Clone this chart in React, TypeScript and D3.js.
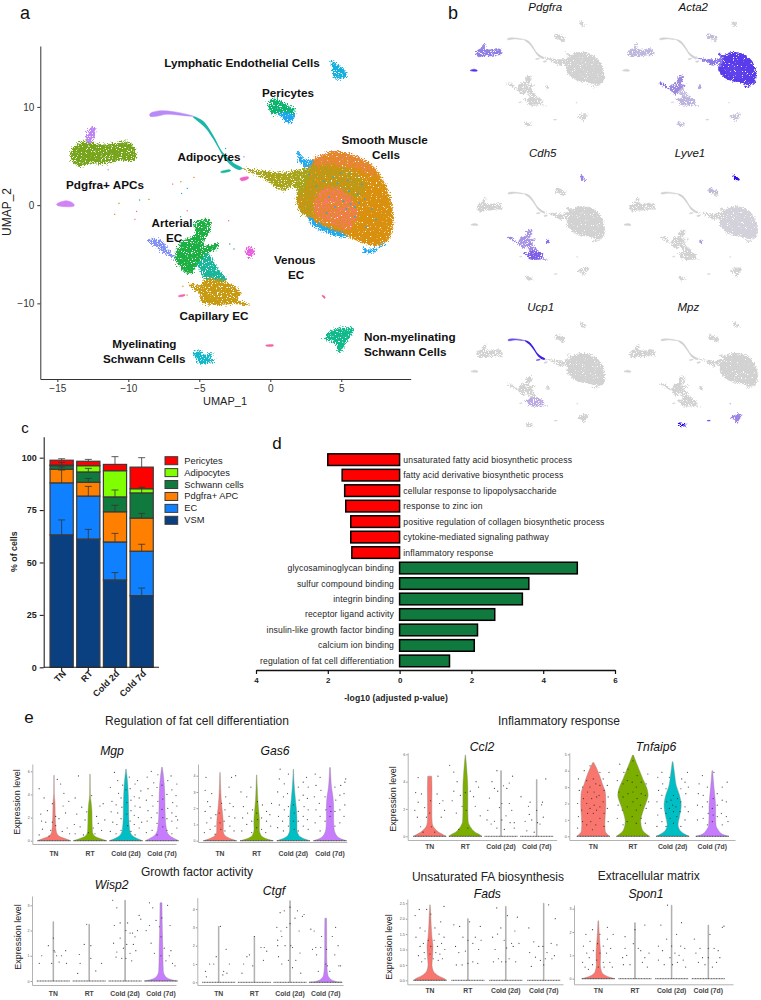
import { useEffect, useRef } from 'react';
import * as d3 from 'd3';

// ---------- panel a/b: UMAP cluster outlines in UMAP units
const lymphaticHull = [[4.27,14.64],[4.91,14.17],[5.45,13.22],[5.14,12.92],[4.51,12.98],[4.39,13.73]];
const pericyteHull = [[-0.07,10.51],[0.33,10.85],[1.03,10.34],[1.74,9.66],[1.74,9.25],[0.92,9.39],[0.09,9.32],[-0.09,9.83]];
const pericyteBlueHull = [[0.45,9.39],[1.74,9.25],[1.38,8.31],[0.8,8.92]];
const apcHull = [[-14.06,5.42],[-13.52,6.27],[-12.82,6.61],[-12,6.2],[-11.06,6.27],[-10.23,6.51],[-9.65,6.1],[-9.41,5.08],[-9.53,4.58],[-10.59,4.51],[-11.53,4.24],[-12.7,4.24],[-13.52,3.97],[-13.99,4.58]];
const apcTopHull = [[-12.98,6.61],[-12.82,7.63],[-12.35,7.97],[-12.35,7.12],[-12.58,6.27]];
const apcLeftHull = [[-15.05,0.1],[-14.34,0.45],[-13.83,0.1],[-13.83,-0.1],[-15,-0.03]];
const adipPurpleHull = [[-8.47,9.32],[-7.89,9.59],[-6.71,9.49],[-5.42,9.05],[-5.89,9.08],[-7.3,9.25],[-8,9.05],[-8.47,9.05]];
const adipTealHull = [[-5.42,8.98],[-4.72,8.47],[-4.01,6.95],[-3.43,5.42],[-2.61,4.24],[-2.02,3.73],[-2.25,3.66],[-3.08,4.58],[-3.78,6.27],[-4.48,7.8],[-5.19,8.71]];
const wedgeHull = [[-2.02,3.73],[-0.73,3.56],[0.92,3.32],[2.56,3.63],[2.68,2.54],[2.09,1.02],[1.62,1.86],[0.92,1.46],[-0.26,2.54],[-1.2,3.29]];
const smBaseHull = [[3.03,4.58],[4.44,5.42],[5.85,5.08],[7.02,4.24],[7.96,2.54],[8.54,0.17],[8.66,-1.86],[8.31,-3.56],[7.49,-4.17],[6.31,-3.73],[5.14,-3.05],[3.5,-2.2],[2.68,-1.19],[2.09,-0.51],[1.92,0.85],[2.44,2.88]];
const smOliveHull = [[2.44,3.73],[3.15,4.24],[4.44,4],[5.85,3.49],[6.9,1.86],[5.85,0.51],[4.44,1.69],[3.5,1.36],[3.26,-0.85],[2.68,-1.19],[2.09,-0.51],[1.92,0.85],[2.44,2.88]];
const smTopHull = [[3.03,4.58],[4.44,5.42],[5.85,5.08],[7.02,4.24],[7.61,3.05],[5.85,3.73],[4.44,4.17],[3.15,4]];
const smSalmonHull = [[3.5,1.36],[4.55,1.86],[5.73,0.85],[6.2,-0.85],[5.61,-2.54],[4.44,-1.93],[3.5,-1.36],[3.15,0]];
const smBlueLowHull = [[2.68,-1.19],[3.5,-1.93],[5.38,-3.15],[5.14,-3.29],[3.5,-2.54],[2.79,-1.8]];
const smBlueSpikeHull = [[1.9,5.53],[2.44,4.64],[3.03,4.51],[2.68,3.83],[2.09,4.34]];
const smBlueHookHull = [[6.5,-4.41],[7.25,-4.51],[8.19,-3.73],[7.49,-4.64],[6.78,-4.92],[6.5,-4.64]];
const arterialHull = [[-5.31,-1.8],[-4.25,-1.46],[-4.25,-2.54],[-4.72,-4.07],[-3.66,-3.9],[-3.66,-4.31],[-4.48,-4.98],[-4.95,-5.66],[-5.66,-7.02],[-6.48,-6.1],[-6.71,-5.25],[-6.24,-3.73],[-5.31,-3.05]];
const arterialBlueHull = [[-8.71,-3.56],[-7.82,-3.49],[-7.18,-4.41],[-6.71,-5.42],[-7.07,-5.25],[-7.89,-4.41]];
const venousHull = [[-5.42,-4.58],[-4.37,-4.92],[-3.78,-6.27],[-3.08,-7.63],[-4.48,-7.63],[-5.07,-6.27]];
const capillaryHull = [[-5.66,-8.03],[-4.84,-8.14],[-4.6,-7.63],[-3.54,-7.56],[-2.61,-8.14],[-2.09,-8.98],[-2.25,-9.66],[-1.38,-10.2],[-2.61,-10.07],[-4.01,-10.17],[-4.84,-9.83],[-5,-8.98],[-5.66,-8.3]];
const nonMyelHull = [[3.78,-13.56],[4.67,-12.54],[5.89,-12.64],[5.49,-13.73],[4.86,-15.02],[4.55,-14.08]];
const myelHull = [[-5.38,-14.92],[-4.95,-14.81],[-4.6,-15.25],[-4.01,-14.92],[-4.25,-15.59],[-3.83,-15.76],[-4.95,-16.17],[-5.19,-15.76]];
const pinkAHull = [[-1.71,-4.41],[-1.31,-4.31],[-1.08,-5.08],[-1.43,-5.32],[-1.67,-4.92]];
const pinkBHull = [[-2.14,2.71],[-1.55,2.88],[-1.55,2.7],[-2.02,2.47]];
const pinkCHull = [[-6.48,-9.25],[-6.01,-9.1],[-6.01,-9.2],[-6.41,-9.33]];
const pinkDHull = [[3.64,-9.19],[3.85,-9.32],[3.85,-9.5],[3.69,-9.33]];
const pinkEHull = [[-0.33,-14.27],[0.21,-14.22],[0.21,-14.33],[-0.26,-14.36]];
const tealBitHull = [[-3.5,3.39],[-2.84,3.6],[-2.79,3.5],[-3.43,3.3]];

const clusterKeys = ['lymphatic','pericyte','pericyteBlue','apc','apcTop','wedge','arterialBlue','venous','arterial','capillary','nonMyel','myel','pinkA'];
const clusterHulls = [lymphaticHull,pericyteHull,pericyteBlueHull,apcHull,apcTopHull,wedgeHull,arterialBlueHull,venousHull,arterialHull,capillaryHull,nonMyelHull,myelHull,pinkAHull];
const clusterColors = ['#12afdf','#0cb56e','#1fa7ee','#76a51b','#bd84f5','#a9a51a','#7f8ff5','#18b79b','#1cb043','#c79a12','#10ba8a','#0fb9c9','#ea5fe0'];
// thin or tiny clusters, left out of the speckle filter or they would fall apart
const thinKeys = ['apcLeft','adipPurple','adipTeal','pinkB','pinkC','pinkD','pinkE','tealBit'];
const thinHulls = [apcLeftHull,adipPurpleHull,adipTealHull,pinkBHull,pinkCHull,pinkDHull,pinkEHull,tealBitHull];
const thinColors = ['#d083f2','#b98af7','#1ab7a8','#ee62c4','#f75fb0','#f75f95','#f566a0','#18b89a'];
const smKeys = ['smBase','smOlive','smTop','smSalmon','smBlueLow','smBlueSpike','smBlueHook'];
const smHulls = [smBaseHull,smOliveHull,smTopHull,smSalmonHull,smBlueLowHull,smBlueSpikeHull,smBlueHookHull];
const smColors = ['#d9900e','#ad9f1e','#ef7f50','#f8766d','#1fa9f0','#1fa9f0','#1fa9f0'];

const strayDots = [[-5.42,2.88,'#d89000'],[-6.92,2.2,'#f564a0'],[-6.34,2.44,'#a3a500'],[-6.29,1.25,'#1fa9f0'],[-5.89,1.76,'#1fa9f0'],[-10.7,0.24,'#a3a500'],[-9.25,0.58,'#12bd85'],[-8.59,0.64,'#a3a500'],[-11,-0.88,'#d89000'],[-9.58,-1.39,'#f8766d'],[-9.46,-0.58,'#f564a0'],[-5.89,-0.51,'#f564a0'],[-6.36,-1.12,'#18b79b'],[-2.98,-1.53,'#f564a0'],[-1.9,4.98,'#ea5fe0'],[-3.19,5.83,'#1fa9f0'],[-11.46,3.66,'#d083f2'],[-2.9,-3.9,'#1cb043'],[-2.6,-4.4,'#1cb043'],[-6.2,-8.2,'#c79a12'],[-5.9,-9.1,'#c79a12']];
const smSpeckles = [[5.1,0.5],[5.6,0.2],[5.3,-0.3],[5.9,-0.1],[6.2,0.3],[4.9,3.3],[5.4,2.6],[4.7,2.3],[6.1,1.2],[6.6,0.7],[4.1,0.9],[3.7,2.5],[4.4,2.9],[7.1,-0.3],[7.4,-1.4],[6.7,-2.2],[5.9,-1.1],[3.2,2],[2.7,3.2],[5.5,1.5],[6.4,2.2],[4.5,-0.1],[3.9,-0.7]];

// feature plots: genes and the clusters that light up, the rest stays grey
const geneNames = ['Pdgfra','Acta2','Cdh5','Lyve1','Ucp1','Mpz'];
const pdgfraLit = { apc:'#8f7ee6', apcTop:'#9a8be6', apcLeft:'#4a30ee' };
const acta2Lit = { smBase:'#5a3cea', smOlive:'#5a3cea', smTop:'#5a3cea', smSalmon:'#5f42ea', smBlueLow:'#5a3cea', smBlueSpike:'#6a50e8', smBlueHook:'#4a30ee', wedge:'#8b78e8', arterialBlue:'#8a6fe4', arterial:'#9d8adf', venous:'#c4bce0', capillary:'#bcb3de', apc:'#bdb8dc', apcTop:'#c6c2dc', pericyte:'#bfbbdc', myel:'#c2bedc', nonMyel:'#c6c4d8', pinkA:'#a99ce0' };
const cdh5Lit = { capillary:'#7c5ee8', arterial:'#a894e4', arterialBlue:'#9a85e8', venous:'#a088e6', lymphatic:'#9a80ea', pinkA:'#8a70e8' };
const lyve1Lit = { lymphatic:'#2a10e8', pericyte:'#bdb8d8', smBase:'#d3d1da', smOlive:'#d3d1da', smTop:'#d3d1da', smSalmon:'#d3d1da', smBlueLow:'#d3d1da', pinkA:'#a99ce0' };
const ucp1Lit = { adipTeal:'#3a20e8', adipPurple:'#6a50e8', capillary:'#baa8e2', tealBit:'#6a50e8' };
const mpzLit = { myel:'#2a10e8', nonMyel:'#9d85e5', pinkE:'#5a40e8', pinkD:'#b8aee0' };
const geneLit = [pdgfraLit, acta2Lit, cdh5Lit, lyve1Lit, ucp1Lit, mpzLit];

const umapLabels = [
  ['Lymphatic Endothelial Cells',242,62,'middle'],['Pericytes',288,92,'middle'],
  ['Smooth Muscle',384.7,139.3,'middle'],['Cells',386,154.3,'middle'],
  ['Adipocytes',209,156,'middle'],['Pdgfra+ APCs',105,184,'middle'],
  ['Arterial',172,222.7,'middle'],['EC',174,237.7,'middle'],
  ['Venous',294.7,259.7,'middle'],['EC',296,274.7,'middle'],
  ['Capillary EC',214,315.3,'middle'],
  ['Myelinating',144.3,343.7,'middle'],['Schwann Cells',144.3,358.7,'middle'],
  ['Non-myelinating',364,336,'start'],['Schwann Cells',364,351.3,'start'],
];

// ---------- panel c
const conditions = ['TN','RT','Cold 2d','Cold 7d'];
const cellTypes = ['VSM','EC','Pdgfra+ APC','Schwann cells','Adipocytes','Pericytes'];
const cellColors = ['#0a3f80','#0f80ff','#ff8000','#107a3e','#80ff00','#ff0000'];
const vsmShare = [63.2,61.2,41.7,34.2];
const ecShare = [24.8,20.5,18.1,21.2];
const apcShare = [6.5,6.6,14.4,15.8];
const schwannShare = [1.7,4.9,7.1,12];
const adipShare = [0.3,3,12.5,2];
const periShare = [2.3,2.1,3,10.3];
const vsmErr = [70.3,65.8,45.2,37.8];
const ecErr = [94.1,86.3,63.9,58.7];
const apcErr = [95.6,90.1,77.3,73.4];
const schwannErr = [97.8,94.9,84.6,85.9];
const periErr = [99.5,99.2,100.5,100];

// ---------- panel d
const goTerms = ['unsaturated fatty acid biosynthetic process','fatty acid derivative biosynthetic process','cellular response to lipopolysaccharide','response to zinc ion','positive regulation of collagen biosynthetic process','cytokine-mediated signaling pathway','inflammatory response','glycosaminoglycan binding','sulfur compound binding','integrin binding','receptor ligand activity','insulin-like growth factor binding','calcium ion binding','regulation of fat cell differentiation'];
const goValues = [-2,-1.6,-1.53,-1.5,-1.36,-1.36,-1.33,4.95,3.6,3.42,2.65,2.17,2.08,1.39];

// ---------- panel e: violin outlines [level, relative half width], sticks are just [0,top]
const violinGroups = ['TN','RT','Cold (2d)','Cold (7d)'];
const violinColors = ['#f8766d','#7cae00','#00bfc4','#c77cff'];
const mgpViolins = [
  [[0,1],[.15,.75],[.4,.3],[.8,.14],[1.5,.09],[2.5,.07],[3.3,.06],[4.1,.015],[5.65,.01]],
  [[0,1],[.15,.7],[.4,.28],[.8,.15],[1.5,.13],[2.5,.12],[3.2,.08],[4,.02],[5.75,.01]],
  [[0,1],[.15,.75],[.5,.35],[1,.22],[2,.17],[3,.16],[4,.14],[5,.1],[5.7,.05],[6.2,.01]],
  [[0,1],[.15,.8],[.5,.42],[1,.27],[2,.2],[3,.18],[4,.17],[5,.13],[5.8,.07],[6.35,.02]],
];
const gas6Violins = [
  [[0,1],[.1,.7],[.3,.32],[.6,.2],[1,.2],[1.5,.17],[2,.12],[2.6,.07],[3.2,.04],[4.2,.01]],
  [[0,1],[.1,.65],[.3,.28],[.7,.16],[1.2,.17],[1.8,.13],[2.5,.07],[3.2,.04],[4.05,.01]],
  [[0,1],[.1,.7],[.3,.35],[.7,.22],[1.2,.22],[1.8,.2],[2.5,.13],[3.2,.07],[3.8,.03],[4.4,.01]],
  [[0,1],[.1,.7],[.35,.38],[.8,.24],[1.3,.22],[2,.22],[2.7,.18],[3.3,.09],[3.9,.05],[4.5,.02]],
];
const wisp2Violins = [
  [[0,.02],[2.35,.02]],[[0,.02],[2.25,.02]],[[0,.02],[3.2,.02]],
  [[0,1],[.06,.6],[.2,.25],[.4,.14],[.8,.12],[1.3,.11],[1.8,.09],[2.4,.07],[3.1,.06]],
];
const ctgfViolins = [
  [[0,.02],[3.05,.02]],[[0,.02],[2.5,.02]],[[0,.02],[4.45,.02]],
  [[0,1],[.05,.6],[.2,.27],[.4,.13],[.8,.08],[1.4,.06],[2.5,.06],[3.5,.05]],
];
const ccl2Violins = [
  [[0,1],[.1,.85],[.3,.55],[.6,.28],[1,.15],[1.5,.13],[2.5,.13],[3.5,.14],[4.4,.12]],
  [[0,1],[.1,.9],[.3,.6],[.7,.3],[1.1,.17],[1.8,.15],[2.8,.15],[3.6,.15],[4.5,.11],[5.3,.06],[5.95,.01]],
  [[0,.02],[4.8,.02]],[[0,.02],[4.15,.02]],
];
const tnfaip6Violins = [
  [[0,1],[.12,.85],[.35,.72],[.7,.7],[1.2,.72],[1.9,.76],[2.6,.74],[3.2,.55],[3.7,.38],[4.2,.18],[4.5,.03]],
  [[0,1],[.15,.8],[.45,.55],[.9,.47],[1.5,.6],[2,.78],[2.5,.92],[3,.82],[3.5,.6],[4,.4],[4.5,.2],[4.95,.03]],
  [[0,1],[.15,.7],[.4,.42],[.7,.33],[1.2,.42],[1.9,.52],[2.5,.42],[3.1,.22],[3.8,.12],[4.55,.02]],
  [[0,1],[.12,.62],[.35,.38],[.7,.22],[1.2,.2],[1.8,.2],[2.4,.16],[3,.1],[4,.02]],
];
const fadsViolins = [
  [[0,1],[.06,.85],[.15,.5],[.3,.2],[.5,.12],[.8,.16],[1.1,.18],[1.4,.12],[1.8,.07],[2.1,.05],[2.45,.01]],
  [[0,.02],[2,.02]],[[0,.02],[2.4,.02]],[[0,.02],[2.5,.02]],
];
const spon1Violins = [
  [[0,1],[.05,.75],[.15,.4],[.3,.2],[.6,.12],[1,.14],[1.5,.1],[2,.05],[2.48,.02]],
  [[0,.02],[2.4,.02]],[[0,.02],[3.15,.02]],[[0,.02],[2.3,.02]],
];

// jittered cells [offset within the band, level], a sample of what can be made out
const mgpCells = [
  [[-.9,.5],[-.7,1],[-.5,1.6],[-.8,2.3],[-.4,2.6],[-.2,.9],[.1,1.3],[.3,1.9],[.5,.8],[.7,2.4],[.9,3.4],[.6,4.1],[.4,4.9],[-.1,3.2],[-.6,3.7],[-.9,4.5],[.2,5.3],[.8,1.1],[-.3,.4],[.1,2.1],[-.1,1.6],[.95,.6],[.55,3],[-.75,1.7]],
  [[-.9,.6],[-.6,1.2],[-.8,2.3],[-.5,2.9],[-.9,3.7],[-.3,1.8],[-.1,.7],[.2,1.1],[.4,2.1],[.7,.9],[.9,1.8],[.6,3],[.8,3.2],[-.7,5.6],[.1,3.9],[-.4,.5],[.3,.6],[-.2,2.5],[.5,1.5],[-.95,1.4]],
  [[-.95,.8],[-.8,1.6],[-.9,2.5],[-.85,3.4],[-.95,4.6],[-.7,5.9],[-.6,.6],[-.55,1.4],[-.5,2.4],[-.6,3.1],[-.45,4.1],[-.5,5.2],[-.3,.9],[-.3,1.9],[-.25,2.9],[-.3,3.7],[-.2,4.8],[.1,1.3],[.05,2.3],[.05,3.3],[0,4.4],[.3,.8],[.25,1.7],[.3,2.6],[.3,3.5],[.25,4.5],[.2,5.5],[.55,.5],[.5,1.4],[.5,2.2],[.55,3],[.5,3.8],[.55,4.9],[.8,1.1],[.75,2],[.85,2.9],[.8,3.7],[.9,4.3],[.7,5.2],[.95,1.6]],
  [[-.95,.7],[-.9,1.7],[-.85,2.6],[-.95,3.5],[-.85,4.5],[-.9,5.5],[-.6,.9],[-.65,2],[-.55,3],[-.6,3.9],[-.5,5],[-.65,6],[-.3,.5],[-.3,1.5],[-.3,2.4],[-.25,3.4],[-.3,4.6],[-.25,5.7],[.05,1.2],[.05,2],[0,2.7],[.05,3.6],[0,4.8],[.3,.9],[.3,1.9],[.35,2.8],[.3,4],[.35,5.2],[.6,.6],[.6,1.7],[.6,2.4],[.65,3.3],[.6,4.4],[.55,5.6],[.9,1.1],[.85,2.1],[.9,3],[.85,3.9],[.9,4.9],[.95,1.8]],
];
const gas6Cells = [
  [[-.95,.5],[-.8,1.1],[-.9,1.8],[-.75,2.4],[-.9,3.1],[-.85,3.9],[-.6,.7],[-.55,1.4],[-.6,2.1],[-.5,2.9],[-.3,.9],[-.25,1.6],[-.3,.4],[0,1.1],[.05,.7],[-.05,1.7],[.1,2.3],[.3,.6],[.25,1.2],[.3,1.9],[.35,2.7],[.6,.9],[.55,1.5],[.6,2.3],[.55,3.3],[.85,.6],[.9,1.4],[.8,2.1],[.7,3.9],[.95,4]],
  [[-.9,.6],[-.85,1.4],[-.8,2.1],[-.95,3],[-.6,1],[-.55,1.7],[-.6,2.7],[-.3,.5],[-.3,1.2],[-.25,1.9],[-.35,3.3],[0,.8],[.05,1.3],[0,1.7],[.05,2.4],[.3,.7],[.3,1.4],[.35,2.2],[.55,.5],[.6,1.2],[.6,1.8],[.85,.9],[.8,1.6],[.9,2.3]],
  [[-.95,.8],[-.9,1.5],[-.85,2.2],[-.95,3],[-.85,3.8],[-.8,4.4],[-.6,.6],[-.65,1.2],[-.55,1.9],[-.6,2.7],[-.55,3.5],[-.3,.9],[-.3,1.5],[-.3,2.1],[-.35,2.9],[-.3,4.1],[0,1.2],[.05,1.7],[0,2.2],[.05,.7],[.3,.6],[.3,1.2],[.3,1.8],[.35,2.5],[.3,3.3],[.6,.9],[.6,1.5],[.65,2.1],[.6,2.8],[.6,3.6],[.9,.7],[.85,1.3],[.9,1.9],[.85,2.6],[.9,3.3],[.8,3.9]],
  [[-.9,1.1],[-.85,1.9],[-.95,2.7],[-.85,3.4],[-.9,4.1],[-.6,.6],[-.6,1.5],[-.65,2.3],[-.55,3.1],[-.6,3.9],[-.3,1.2],[-.25,1.9],[-.3,2.7],[0,1.5],[0,2.1],[.05,1.8],[.3,.9],[.3,1.8],[.35,2.5],[.3,3.3],[.6,1.1],[.6,1.9],[.6,2.8],[.65,3.4],[.85,1.5],[.9,2.2],[.85,2.9],[.9,3.6],[.95,3.8]],
];
const wisp2Cells = [
  [[-.85,.7],[-.7,1],[-.3,1.4],[0,1.7],[.05,1.2],[.1,1.15],[.2,1],[.35,.75],[.5,1],[.75,1.2],[.8,.7],[-.1,.7]],
  [[-.6,1.05],[-.55,.7],[-.7,.3],[-.3,1.45],[.1,1.4],[.4,.4],[.1,.9],[-.15,2.25],[.75,.7]],
  [[-.75,3.2],[-.5,2.9],[-.65,2.2],[-.7,1.5],[-.5,1.15],[-.55,.95],[-.3,2.3],[-.3,1.7],[-.1,1.3],[.05,2],[.1,1.45],[.15,2.3],[.3,1.9],[.3,1.1],[.45,1.9],[.5,1.45],[.6,1.75],[.75,2],[.85,2.6],[.95,2.45],[.4,.8],[-.2,.9],[.65,1.2],[.05,.9]],
  [[-.9,2],[-.7,3.1],[-.7,2.2],[-.6,1.5],[-.5,2.9],[-.3,2.4],[-.1,2.15],[0,1.75],[.05,2.5],[0,1],[.2,1.3],[.4,3],[.5,1],[.55,2.2],[.6,1.2],[.7,.7],[.85,.6],[-.4,1.1],[.3,.8]],
];
const ctgfCells = [
  [[-.8,.6],[-.75,.3],[-.55,1],[-.3,1],[-.15,1.4],[.1,3.05],[.3,.6],[.45,1.8],[.5,.5],[.65,1],[.25,.4]],
  [[-.75,.5],[-.65,1],[-.45,1.4],[-.3,1.5],[-.1,.9],[0,2.5],[.4,1.9],[.6,1.9],[.55,1.2],[.75,1.7]],
  [[-.8,3],[-.75,2.3],[-.75,2],[-.7,1.4],[-.6,3.8],[-.55,2.8],[-.5,2.5],[-.5,1],[-.35,3.9],[-.3,2],[-.2,3],[-.1,1.2],[0,3.2],[0,4.1],[.05,2],[.15,1.9],[.15,.8],[.3,3.5],[.35,1.2],[.45,3.9],[.55,2.8],[.6,1.6],[.75,3.6],[.85,3.7],[.65,.5]],
  [[-.9,2.9],[-.8,1.8],[-.7,2.8],[-.6,1.9],[-.55,1.5],[-.45,.6],[-.3,1.9],[-.25,2.5],[.05,1.8],[0,1],[.1,.9],[.25,.6],[.4,2.5],[.55,1.5],[.6,3],[.75,2],[.8,.9],[.9,.9]],
];
const ccl2Cells = [
  [[-.85,3.2],[-.7,2.5],[-.9,1.9],[-.75,1.4],[-.7,4.3],[-.5,3.1],[-.55,.7],[-.3,2.1],[-.2,1.4],[0,1.7],[.05,2.6],[.1,.7],[.45,3.1],[.5,4.4],[.6,2.4],[.8,2.6],[.9,1.9],[.7,1.4],[.3,.3],[-.4,.3]],
  [[-.95,5.2],[-.7,3.3],[-.8,2.6],[-.7,4.7],[-.55,1.7],[-.5,4],[-.3,3],[-.2,2.2],[0,3.2],[.05,1.9],[.15,.6],[.3,3.3],[.5,2.9],[.65,4],[.6,2.2],[.8,3.6],[.9,1.5],[-.4,.5]],
  [[-.8,1.9],[-.85,1.2],[-.7,2.8],[-.55,4],[-.6,.9],[-.4,3.5],[-.4,1.1],[-.25,4.8],[-.2,3.3],[-.1,2.1],[.05,2.4],[.05,1.2],[.15,3.7],[.2,.5],[.35,3.5],[.3,1.5],[.5,3.9],[.5,2.4],[.55,1],[.7,4.4],[.65,1.9],[.8,1],[.8,.6],[-.25,.6]],
  [[-.95,2.9],[-.7,1.1],[-.6,.4],[-.5,2.2],[-.4,2.5],[-.45,1.6],[-.3,1.2],[0,1.9],[.05,1],[.2,.9],[.3,2.3],[.35,2.5],[.4,1.4],[.55,4.2],[-.15,.3]],
];
const tnfaip6Cells = [
  [[-.95,.5],[-.9,1.2],[-.95,2],[-.85,2.8],[-.9,3.5],[-.65,.9],[-.7,1.6],[-.6,2.3],[-.65,3],[-.55,4],[-.4,.7],[-.35,1.4],[-.4,2],[-.35,2.7],[-.4,3.4],[-.2,4.3],[-.15,.9],[-.2,1.7],[-.1,2.3],[-.2,3],[0,1.4],[.05,1.9],[.05,2.7],[0,3.5],[.15,.7],[.2,1.6],[.2,2.4],[.15,3.2],[.4,1.1],[.4,1.8],[.35,2.5],[.4,3.1],[.4,3.9],[.65,.6],[.65,1.4],[.6,2.1],[.65,2.8],[.6,3.5],[.9,.9],[.85,1.7],[.9,2.4],[.85,3.1],[.95,3.9],[-.05,.4]],
  [[-.95,1.1],[-.9,1.9],[-.85,2.7],[-.95,3.4],[-.8,4.4],[-.6,.7],[-.65,1.6],[-.6,2.4],[-.6,3.2],[-.55,3.9],[-.35,.9],[-.35,1.8],[-.3,2.6],[-.35,3.4],[-.3,4.1],[-.05,1.2],[0,2.1],[0,2.7],[-.05,3.3],[0,4.6],[.2,.8],[.2,1.6],[.25,2.3],[.2,3],[.25,3.7],[.5,1.1],[.45,1.9],[.5,2.6],[.5,3.3],[.75,.8],[.8,1.7],[.75,2.5],[.8,3.2],[.95,2.1],[.9,3.8]],
  [[-.95,.6],[-.9,1.3],[-.95,2.1],[-.85,2.8],[-.9,3.6],[-.65,.9],[-.7,1.7],[-.65,2.5],[-.6,3.2],[-.65,3.9],[-.4,.6],[-.4,1.4],[-.35,2.1],[-.4,2.9],[-.15,1.1],[-.2,1.7],[-.1,2.2],[-.2,3.6],[.05,.8],[.05,1.5],[0,1.9],[.05,2.5],[.25,1.2],[.2,1.8],[.3,2.3],[.5,.6],[.45,1.5],[.5,2.1],[.5,2.9],[.55,3.5],[.75,1],[.75,1.8],[.8,2.6],[.75,3.3],[.9,3.9],[.95,1.5],[.95,3]],
  [[-.9,1.9],[-.85,2.6],[-.8,3.2],[-.9,1],[-.55,1.1],[-.6,1.8],[-.55,2.5],[-.6,3.7],[-.3,.7],[-.25,1.4],[-.3,2.1],[-.3,3],[0,.9],[.05,1.3],[0,1.7],[.05,2.3],[.1,3.9],[.3,1.2],[.3,1.9],[.3,2.6],[.6,.7],[.55,1.4],[.6,2.2],[.6,3],[.85,1.2],[.85,2.1],[.9,3.3],[.95,.9]],
];
const fadsCells = [
  [[-.9,2.1],[-.85,1.4],[-.7,.8],[-.6,1.7],[-.6,1.1],[-.65,2.3],[-.5,.6],[-.4,1.2],[-.35,.9],[-.3,1.6],[-.3,.7],[-.2,2.3],[-.1,1.3],[.05,1.1],[0,.85],[.05,2.15],[.2,.7],[.25,1.3],[.3,1.7],[.35,.9],[.45,1.1],[.5,.65],[.55,1.5],[.6,.85],[.65,1.9],[.7,1.2],[.75,.7],[.85,1.4],[.9,1],[.85,2.4]],
  [[-.85,1.8],[-.75,1.1],[-.7,.5],[-.5,1.75],[-.55,.9],[-.35,.5],[-.3,1.4],[-.15,.95],[0,1.3],[0,.55],[.1,1.9],[.3,.6],[.3,1.2],[.45,1.4],[.6,.55],[.65,1],[.75,1.75],[.8,1.3]],
  [[-.8,1.4],[-.75,.6],[-.65,1],[-.55,2.35],[-.5,1.5],[-.45,.7],[-.3,1.7],[-.25,.6],[-.1,1.3],[0,.6],[.05,1.05],[.1,2.1],[.2,.7],[.35,1.2],[.45,1.1],[.55,1.6],[.6,.6],[.7,2.05],[.8,1.2]],
  [[-.9,1.7],[-.85,.9],[-.75,.45],[-.6,1.25],[-.5,.75],[-.3,1.1],[-.2,.65],[-.05,1.1],[0,.5],[.1,.7],[.2,.9],[.3,2.45],[.45,1.2],[.5,.7],[.65,.8],[.7,2],[.8,1.15]],
];
const spon1Cells = [
  [[-.95,.7],[-.9,1.4],[-.8,.5],[-.7,1.1],[-.75,1.9],[-.6,.4],[-.55,.9],[-.5,1.6],[-.35,.6],[-.3,1.2],[-.35,2.1],[-.1,.8],[-.05,1.5],[0,.5],[.1,1.1],[.1,1.9],[.3,.7],[.3,1.4],[.35,.5],[.5,1.1],[.55,1.7],[.55,2.2],[.7,.7],[.75,1.3],[.85,.5],[.9,1.9]],
  [[-.75,.9],[-.7,.6],[-.6,1.3],[-.5,1],[-.3,.6],[-.1,1.5],[0,2.1],[.2,1.3],[.35,1.2],[.45,.7],[.6,2.3],[.6,.9],[.75,.5],[.85,1.1],[-.6,1.8]],
  [[-.8,1.4],[-.8,.8],[-.65,2.3],[-.55,1.2],[-.45,.6],[-.3,1.7],[-.25,3.15],[-.1,.9],[0,1.4],[.05,.6],[.2,1.1],[.3,1.9],[.35,.7],[.45,1],[.55,1.4],[.6,2.4],[.7,.8],[.8,1.3],[.85,.5]],
  [[-.85,1.7],[-.75,1.1],[-.6,.7],[-.5,1.3],[-.35,.9],[-.2,.6],[0,1.3],[0,.9],[.1,1.9],[.25,.5],[.35,1.3],[.5,.7],[.6,1.2],[.7,.9],[.85,2.2],[.95,2.25]],
];

const violinPanels = [
  { gene:'Mgp', shapes:mgpViolins, cells:mgpCells, ticks:[0,2,4,6], ref:[0,6], refPx:[840.7,771.3], axisX:32.3, top:764, bottom:844, right:176, centers:[54,162], titleX:112, titleY:751, labelY:853.7, yLabel:[17,802] },
  { gene:'Gas6', shapes:gas6Violins, cells:gas6Cells, ticks:[0,1,2,3,4], ref:[0,4], refPx:[840.7,775.7], axisX:198, top:764, bottom:842, right:346.7, centers:[220,330], titleX:275, titleY:751, labelY:853.7 },
  { gene:'Wisp2', shapes:wisp2Violins, cells:wisp2Cells, ticks:[0,1,2,3], ref:[0,3], refPx:[981,905.3], axisX:32, top:896, bottom:985, right:176, centers:[53.3,161], titleX:111.7, titleY:885, labelY:993, yLabel:[17.7,937] },
  { gene:'Ctgf', shapes:ctgfViolins, cells:ctgfCells, ticks:[0,1,2,3,4], ref:[0,4], refPx:[982.3,909], axisX:197.3, top:897.7, bottom:985, right:343, centers:[218.7,325.7], titleX:274, titleY:891, labelY:993 },
  { gene:'Ccl2', shapes:ccl2Violins, cells:ccl2Cells, ticks:[0,2,4,6], ref:[0,6], refPx:[836.3,754.3], axisX:407.7, top:752.7, bottom:840, right:556.7, centers:[429.7,536.7], titleX:482, titleY:746.7, labelY:846, yLabel:[392.7,799] },
  { gene:'Tnfaip6', shapes:tnfaip6Violins, cells:tnfaip6Cells, ticks:[0,1,2,3,4,5], ref:[0,5], refPx:[836.3,754.3], axisX:569.3, top:752.7, bottom:840, right:735, centers:[593.3,712.3], titleX:656, titleY:746.7, labelY:846 },
  { gene:'Fads', shapes:fadsViolins, cells:fadsCells, ticks:[0,.5,1,1.5,2,2.5], ref:[0,2.5], refPx:[980.3,903.3], axisX:407.3, top:899, bottom:984.3, right:563, centers:[430,543.7], titleX:487.3, titleY:894, labelY:990.3, yLabel:[389.3,947], fixed:true },
  { gene:'Spon1', shapes:spon1Violins, cells:spon1Cells, ticks:[0,1,2,3], ref:[0,3], refPx:[978.7,908.7], axisX:574, top:905, bottom:984.3, right:733, centers:[598.3,708.3], titleX:646, titleY:894, labelY:990.3 },
];
const violinHeadings = [['Regulation of fat cell differentiation',197,721],['Growth factor activity',197,871.7],['Inflammatory response',559,721],['Unsaturated FA biosynthesis',488,876.7],['Extracellular matrix',648.7,876]];

const FONT = '"Liberation Sans", Arial, sans-serif';

function drawUmap(g, x, y, colorFor, filters, mixLayers) {
  const line = d3.line().x(d => x(d[0])).y(d => y(d[1])).curve(d3.curveCatmullRomClosed.alpha(0.5));
  const sm = g.append('g').attr('filter', mixLayers ? null : `url(#${filters[0]})`);
  sm.selectAll('path').data(smHulls).join('path')
    .attr('d', d => line(d))
    // in the large panel each layer is speckled alone so the one below shows through
    .attr('filter', (d, i) => mixLayers ? `url(#${i === 0 || i > 3 ? filters[0] : filters[2]})` : null)
    .attr('fill', (d, i) => colorFor(smKeys[i], smColors[i]));
  const rest = g.append('g').attr('filter', `url(#${filters[1]})`);
  rest.selectAll('path').data(clusterHulls).join('path')
    .attr('d', d => line(d))
    .attr('fill', (d, i) => colorFor(clusterKeys[i], clusterColors[i]));
  g.append('g').selectAll('path').data(thinHulls).join('path')
    .attr('d', d => line(d))
    .attr('fill', (d, i) => colorFor(thinKeys[i], thinColors[i]))
    .attr('stroke', (d, i) => colorFor(thinKeys[i], thinColors[i]))
    .attr('stroke-width', (d, i) => thinKeys[i] === 'adipTeal' ? 1.3 : 0.5);
}

export default function App() {
  const svgRef = useRef();

  useEffect(() => {
    const svg = d3.select(svgRef.current);
    svg.selectAll('*').remove();
    svg.attr('font-family', FONT);

    // rough speckled edges, stands in for the thousands of cells in each cluster
    const defs = svg.append('defs');
    const addFilter = (id, freq, scale, alpha) => {
      const f = defs.append('filter').attr('id', id).attr('x', '-10%').attr('y', '-10%').attr('width', '120%').attr('height', '120%')
        .attr('color-interpolation-filters', 'sRGB');
      f.append('feTurbulence').attr('type', 'fractalNoise').attr('baseFrequency', freq).attr('numOctaves', 2).attr('seed', 4).attr('result', 'n');
      f.append('feDisplacementMap').attr('in', 'SourceGraphic').attr('in2', 'n').attr('scale', scale).attr('xChannelSelector', 'R').attr('yChannelSelector', 'G').attr('result', 'd');
      f.append('feColorMatrix').attr('in', 'n').attr('type', 'matrix').attr('values', `0 0 0 0 0 0 0 0 0 0 0 0 0 0 0 12 0 0 0 ${alpha}`).attr('result', 'm');
      f.append('feComposite').attr('in', 'd').attr('in2', 'm').attr('operator', 'in');
    };
    addFilter('denseCells', 0.8, 9, -2.9);
    addFilter('looseCells', 0.8, 9, -3.6);
    addFilter('mixCells', 0.7, 14, -5.4);
    addFilter('miniDense', 1.1, 5, -3);
    addFilter('miniLoose', 1.1, 5, -4);

    const panelLetter = (t, px, py, size) => svg.append('text').text(t).attr('x', px).attr('y', py)
      .attr('text-anchor', 'middle').attr('dominant-baseline', 'central').attr('font-size', size).attr('fill', '#111');

    // ---- a
    panelLetter('a', 25, 13, 18);
    const ux = d3.scaleLinear().domain([-16.2, 9.89]).range([40.3, 410.7]);
    const uy = d3.scaleLinear().domain([-17.7, 16.2]).range([379, 46]);
    drawUmap(svg.append('g'), ux, uy, (k, c) => c, ['denseCells', 'looseCells', 'mixCells'], true);
    svg.append('g').selectAll('rect').data(smSpeckles).join('rect')
      .attr('x', d => ux(d[0])).attr('y', d => uy(d[1])).attr('width', 1.5).attr('height', 1.5).attr('fill', '#1fa9f0');
    svg.append('g').selectAll('rect').data(strayDots).join('rect')
      .attr('x', d => ux(d[0])).attr('y', d => uy(d[1])).attr('width', 1.2).attr('height', 1.2).attr('fill', d => d[2]);
    const axA = [
      svg.append('g').attr('transform', 'translate(0,379)').call(d3.axisBottom(ux).tickValues([-15, -10, -5, 0, 5]).tickSize(3).tickSizeOuter(0)),
      svg.append('g').attr('transform', 'translate(40.3,0)').call(d3.axisLeft(uy).tickValues([-10, 0, 10]).tickSize(3).tickSizeOuter(0)),
    ];
    axA.forEach(a => {
      a.select('.domain').attr('stroke', '#333').attr('stroke-width', 1);
      a.selectAll('.tick line').attr('stroke', '#333');
      a.selectAll('text').attr('font-family', FONT).attr('font-size', 10).attr('fill', '#333');
    });
    svg.append('text').text('UMAP_1').attr('x', 225).attr('y', 405).attr('text-anchor', 'middle').attr('font-size', 11).attr('fill', '#222');
    svg.append('text').text('UMAP_2').attr('transform', 'translate(11,212) rotate(-90)').attr('text-anchor', 'middle').attr('font-size', 12).attr('fill', '#222');
    svg.append('g').selectAll('text').data(umapLabels).join('text')
      .text(d => d[0]).attr('x', d => d[1]).attr('y', d => d[2]).attr('text-anchor', d => d[3])
      .attr('dominant-baseline', 'central').attr('font-size', 11.7).attr('font-weight', 700).attr('fill', '#111');

    // ---- b
    panelLetter('b', 453, 13, 18);
    const miniOrigin = [[555.3, 70.7], [707.6, 70.7], [556, 225], [709, 225], [556, 371.7], [709, 371.7]];
    const miniTitle = [[545.3, 7.3], [693.3, 7.3], [542.7, 153.3], [690, 153.3], [540.7, 307], [688.3, 307]];
    geneNames.forEach((gene, i) => {
      const [ox, oy] = miniOrigin[i];
      const mx = d3.scaleLinear().domain([0, 1]).range([ox, ox + 5.65]);
      const my = d3.scaleLinear().domain([0, 1]).range([oy, oy - 3.43]);
      drawUmap(svg.append('g'), mx, my, k => geneLit[i][k] || '#d2d2d2', ['miniDense', 'miniLoose'], false);
      svg.append('text').text(gene).attr('x', miniTitle[i][0]).attr('y', miniTitle[i][1]).attr('text-anchor', 'middle')
        .attr('dominant-baseline', 'central').attr('font-style', 'italic').attr('font-size', 11.5).attr('fill', '#111');
    });

    // ---- c
    panelLetter('c', 25, 427, 15);
    const shares = [vsmShare, ecShare, apcShare, schwannShare, adipShare, periShare];
    const errs = [vsmErr, ecErr, apcErr, schwannErr, null, periErr];
    const rows = conditions.map((c, i) => {
      const row = { c };
      cellTypes.forEach((k, j) => { row[k] = shares[j][i]; });
      return row;
    });
    const series = d3.stack().keys(cellTypes)(rows);
    const cx = d3.scaleBand().domain(conditions).range([48.3, 155]).paddingInner(0.13).paddingOuter(0.065);
    const cy = d3.scaleLinear().domain([0, 100]).range([667.3, 457.7]);
    const gc = svg.append('g');
    series.forEach((s, j) => {
      gc.append('g').selectAll('rect').data(s).join('rect')
        .attr('x', d => cx(d.data.c)).attr('y', d => cy(d[1]))
        .attr('width', cx.bandwidth()).attr('height', d => cy(d[0]) - cy(d[1]))
        .attr('fill', cellColors[j]).attr('stroke', '#3a3a3a').attr('stroke-width', 1.2);
    });
    series.forEach((s, j) => {
      if (!errs[j]) return;
      s.forEach((d, i) => {
        const mid = cx(d.data.c) + cx.bandwidth() / 2;
        const p = d3.path();
        p.moveTo(mid, cy(d[1])); p.lineTo(mid, cy(errs[j][i]));
        p.moveTo(mid - 3.5, cy(errs[j][i])); p.lineTo(mid + 3.5, cy(errs[j][i]));
        gc.append('path').attr('d', p.toString()).attr('stroke', '#333').attr('stroke-width', 0.8).attr('fill', 'none');
      });
    });
    const caxL = svg.append('g').attr('transform', 'translate(43.7,0)').call(
      d3.axisLeft(d3.scaleLinear().domain([0, 110]).range([667.3, 436.7])).tickValues([0, 25, 50, 75, 100]).tickSize(4).tickSizeOuter(0));
    const caxB = svg.append('g').attr('transform', 'translate(0,667.3)').call(d3.axisBottom(cx).tickSize(4).tickSizeOuter(0));
    [caxL, caxB].forEach(a => {
      a.select('.domain').attr('stroke', '#222').attr('stroke-width', 1.1);
      a.selectAll('.tick line').attr('stroke', '#222').attr('stroke-width', 1.1);
      a.selectAll('text').attr('font-family', FONT).attr('font-size', 9).attr('font-weight', 700).attr('fill', '#222');
    });
    const cxd = d3.scaleBand().domain(conditions).range([43.7, 159]);
    caxB.selectAll('.tick').attr('transform', d => `translate(${cx(d) + cx.bandwidth() / 2},0)`);
    caxB.selectAll('text').attr('transform', 'translate(3,5) rotate(-45)').attr('text-anchor', 'end').attr('dy', '0.3em').attr('y', 0);
    caxB.select('.domain').attr('d', `M${cxd.range()[0]},0H${cxd.range()[1]}`);
    svg.append('text').text('% of cells').attr('transform', 'translate(16.5,551.7) rotate(-90)').attr('text-anchor', 'middle').attr('font-size', 8.8).attr('font-weight', 700).attr('fill', '#222');
    const legendOrder = [...cellTypes].reverse();
    const legendY = d3.scalePoint().domain(legendOrder).range([460.7, 520.3]);
    const lg = svg.append('g').selectAll('g').data(legendOrder).join('g').attr('transform', d => `translate(165,${legendY(d)})`);
    lg.append('rect').attr('y', -4).attr('width', 12.7).attr('height', 8)
      .attr('fill', d => cellColors[cellTypes.indexOf(d)]).attr('stroke', '#3a3a3a').attr('stroke-width', 1);
    lg.append('text').text(d => d).attr('x', 19.3).attr('dominant-baseline', 'central').attr('font-size', 9.3).attr('fill', '#222');

    // ---- d
    panelLetter('d', 277, 443, 17);
    const dx = d3.scaleLinear().domain([-4, 6]).range([256, 615]);
    const dy = d3.scaleBand().domain(goTerms).range([452, 668.6]).paddingInner(0.25).paddingOuter(0.12);
    const gd = svg.append('g');
    gd.selectAll('rect').data(goTerms).join('rect')
      .attr('x', (d, i) => dx(Math.min(0, goValues[i]))).attr('y', d => dy(d))
      .attr('width', (d, i) => Math.abs(dx(goValues[i]) - dx(0))).attr('height', dy.bandwidth())
      .attr('fill', (d, i) => goValues[i] < 0 ? '#ff0000' : '#107a3e').attr('stroke', '#000').attr('stroke-width', 1.5);
    gd.append('g').selectAll('text').data(goTerms).join('text')
      .text(d => d).attr('x', (d, i) => goValues[i] < 0 ? 403.3 : 394).attr('y', d => dy(d) + dy.bandwidth() / 2)
      .attr('text-anchor', (d, i) => goValues[i] < 0 ? 'start' : 'end').attr('dominant-baseline', 'central')
      .attr('font-size', 8.6).attr('letter-spacing', 0.15).attr('fill', '#222');
    const dax = svg.append('g').attr('transform', 'translate(0,670)').call(d3.axisBottom(dx).tickValues([-4, -2, 0, 2, 4, 6]).tickFormat(v => Math.abs(v)).tickSize(4).tickSizeOuter(0));
    dax.select('.domain').attr('stroke', '#111').attr('stroke-width', 1.3);
    dax.selectAll('.tick line').attr('stroke', '#111').attr('stroke-width', 1.2);
    dax.selectAll('text').attr('font-family', FONT).attr('font-size', 8).attr('font-weight', 700).attr('fill', '#222');
    svg.append('text').text('-log10 (adjusted p-value)').attr('x', 396).attr('y', 697.7).attr('text-anchor', 'middle').attr('dominant-baseline', 'central').attr('font-size', 8.6).attr('font-weight', 700).attr('letter-spacing', 0.1).attr('fill', '#222');

    // ---- e
    panelLetter('e', 29, 717, 17);
    svg.append('g').selectAll('text').data(violinHeadings).join('text')
      .text(d => d[0]).attr('x', d => d[1]).attr('y', d => d[2]).attr('text-anchor', 'middle')
      .attr('dominant-baseline', 'central').attr('font-size', 12).attr('fill', '#222');
    violinPanels.forEach(p => {
      const g = svg.append('g');
      const y = d3.scaleLinear().domain(p.ref).range(p.refPx);
      const x = d3.scalePoint().domain(violinGroups).range(p.centers);
      const halfBand = 16.5;
      const area = d3.area().curve(d3.curveMonotoneY).y(d => y(d[0]));
      violinGroups.forEach((grp, i) => {
        const c = x(grp);
        const isStick = p.shapes[i].length === 2;
        g.append('path').datum(p.shapes[i])
          .attr('d', area.x0(d => c - d[1] * halfBand).x1(d => c + d[1] * halfBand))
          .attr('fill', isStick ? '#aaa' : violinColors[i]).attr('stroke', isStick ? '#aaa' : '#8a8a8a')
          .attr('stroke-width', isStick ? 0.9 : 0.5).attr('stroke-opacity', 0.8);
        g.append('line').attr('x1', c - halfBand).attr('x2', c + halfBand).attr('y1', y(0)).attr('y2', y(0))
          .attr('stroke', '#444').attr('stroke-width', 0.9).attr('stroke-dasharray', '1.2 0.4');
        g.append('g').selectAll('circle').data(p.cells[i]).join('circle')
          .attr('cx', d => c + d[0] * halfBand).attr('cy', d => y(d[1])).attr('r', 0.6).attr('fill', '#222').attr('fill-opacity', 0.85);
      });
      const ax = g.append('g').attr('transform', `translate(${p.axisX},0)`)
        .call(d3.axisLeft(d3.scaleLinear().domain([y.invert(p.bottom), y.invert(p.top)]).range([p.bottom, p.top]))
          .tickValues(p.ticks).tickFormat(d3.format(p.fixed ? '.1f' : 'd')).tickSize(1.5).tickSizeOuter(0));
      const bx = g.append('g').attr('transform', `translate(0,${p.bottom})`)
        .call(d3.axisBottom(d3.scaleLinear().domain([p.axisX, p.right]).range([p.axisX, p.right])).tickValues([]).tickSizeOuter(0));
      [ax, bx].forEach(a => a.select('.domain').attr('stroke', '#aaa').attr('stroke-width', 0.9));
      ax.selectAll('.tick line').attr('stroke', '#999');
      ax.selectAll('text').attr('font-family', FONT).attr('font-size', 3.6).attr('x', -2.5).attr('fill', '#555');
      g.append('g').selectAll('text').data(violinGroups).join('text')
        .text(d => d).attr('x', d => x(d)).attr('y', p.labelY).attr('text-anchor', 'middle').attr('dominant-baseline', 'central')
        .attr('font-size', 6.8).attr('font-weight', 700).attr('fill', '#444');
      g.append('text').text(p.gene).attr('x', p.titleX).attr('y', p.titleY).attr('text-anchor', 'middle').attr('dominant-baseline', 'central')
        .attr('font-size', 12.2).attr('font-style', 'italic').attr('fill', '#111');
      if (p.yLabel) {
        g.append('text').text('Expression level').attr('transform', `translate(${p.yLabel[0]},${p.yLabel[1]}) rotate(-90)`)
          .attr('text-anchor', 'middle').attr('dominant-baseline', 'central').attr('font-size', 9).attr('fill', '#222');
      }
    });
  }, []);

  return <svg ref={svgRef} width={761} height={1000} style={{ position: 'absolute', left: 0, top: 0, background: '#fff' }} />;
}
